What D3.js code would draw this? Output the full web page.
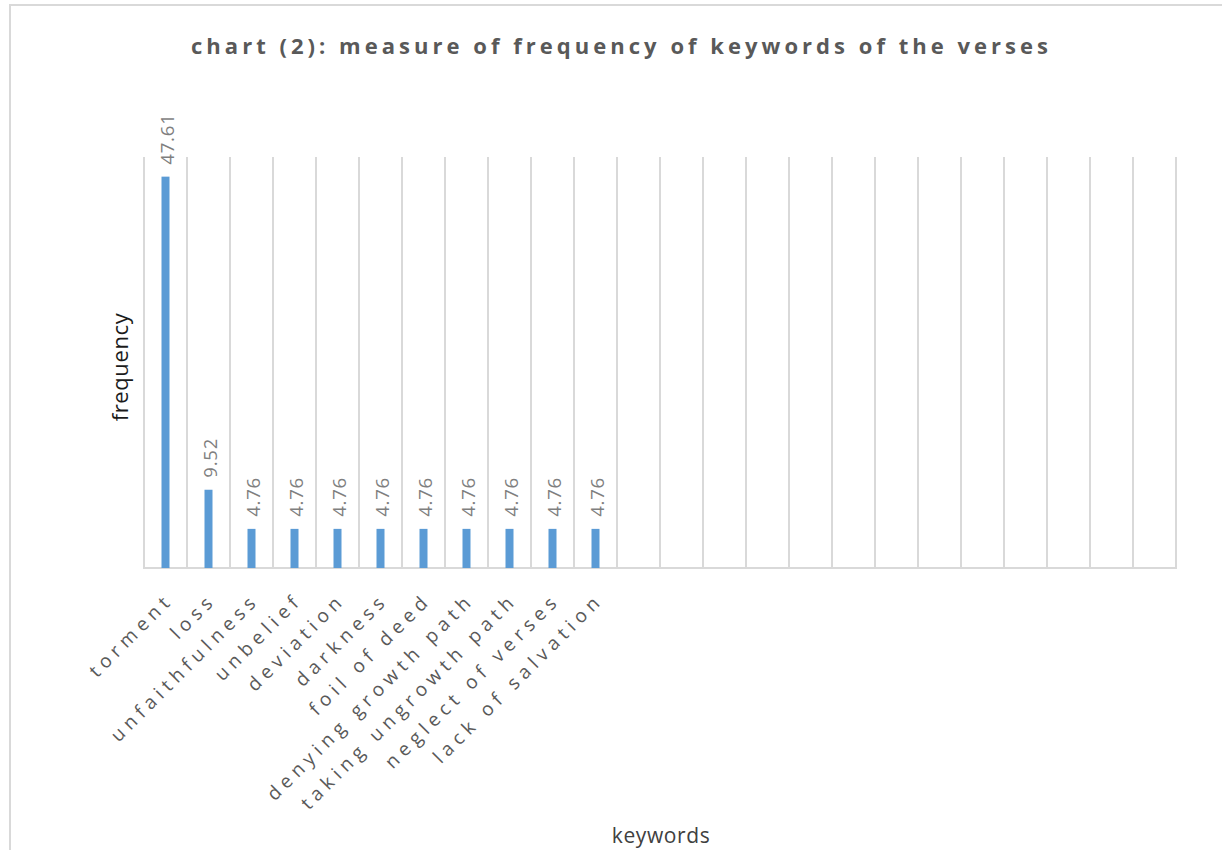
<!DOCTYPE html>
<html>
<head>
<meta charset="utf-8">
<script src="https://cdn.jsdelivr.net/npm/d3@7"></script>
<style>
  html, body { margin: 0; padding: 0; background: #fff; }
  svg { display: block; }
</style>
</head>
<body>
<script>
const chartTitle = "chart (2): measure of frequency of keywords of the verses";
const xTitle = "keywords";
const yTitle = "frequency";
const categories = [
  "torment", "loss", "unfaithfulness", "unbelief", "deviation", "darkness",
  "foil of deed", "denying growth path", "taking ungrowth path",
  "neglect of verses", "lack of salvation",
  "", "", "", "", "", "", "", "", "", "", "", "", ""
];
const values = [47.61, 9.52, 4.76, 4.76, 4.76, 4.76, 4.76, 4.76, 4.76, 4.76, 4.76];
const yDomain = [0, 50];

const W = 1222, H = 850;
const svg = d3.select("body").append("svg").attr("width", W).attr("height", H);

// outer chart border
svg.append("rect").attr("x", 10).attr("y", 5).attr("width", 1400).attr("height", 1000)
  .attr("fill", "#fff").attr("stroke", "#d9d9d9").attr("stroke-width", 2);

const plot = { left: 144, right: 1176, top: 157, bottom: 568 };
const x = d3.scaleBand().domain(d3.range(categories.length)).range([plot.left, plot.right]).padding(0);
const y = d3.scaleLinear().domain(yDomain).range([plot.bottom, plot.top]);
const bw = x.bandwidth();

// vertical gridlines at category boundaries
const bounds = d3.range(categories.length + 1).map(i => i < categories.length ? x(i) : x.range()[1]);
svg.append("g").selectAll("line").data(bounds).join("line")
  .attr("x1", d => d).attr("x2", d => d)
  .attr("y1", y(yDomain[1])).attr("y2", y(0))
  .attr("stroke", "#d9d9d9").attr("stroke-width", 2);

// baseline
svg.append("line").attr("x1", plot.left - 1).attr("x2", plot.right + 1)
  .attr("y1", y(0)).attr("y2", y(0))
  .attr("stroke", "#d9d9d9").attr("stroke-width", 2);

// bars
const barW = 8;
svg.append("g").selectAll("rect").data(values).join("rect")
  .attr("x", (d, i) => x(i) + bw / 2 - barW / 2)
  .attr("y", d => y(d))
  .attr("width", barW)
  .attr("height", d => y(0) - y(d))
  .attr("fill", "#5b9bd5");

// data labels
const fmt = d3.format(".2f");
svg.append("g").selectAll("text").data(values).join("text")
  .attr("transform", (d, i) => `translate(${x(i) + bw / 2 + 8},${y(d) - 12}) rotate(-90)`)
  .attr("text-anchor", "start")
  .attr("font-family", "Open Sans, sans-serif")
  .attr("font-size", 18.5)
  .attr("letter-spacing", "0.8px")
  .attr("fill", "#7f7f7f")
  .text(d => fmt(d));

// category labels
svg.append("g").selectAll("text").data(categories).join("text")
  .attr("transform", (d, i) => `translate(${x(i) + bw / 2 + 9},${y(0) + 33}) rotate(-45)`)
  .attr("text-anchor", "end")
  .attr("font-family", "Open Sans, sans-serif")
  .attr("font-size", 19)
  .attr("letter-spacing", "5.3px")
  .attr("fill", "#595959")
  .text(d => d);

// title
svg.append("text")
  .attr("x", 191).attr("y", 54)
  .attr("textLength", 857).attr("lengthAdjust", "spacing")
  .attr("font-family", "Open Sans, sans-serif")
  .attr("font-weight", "bold")
  .attr("font-size", 22)
  .attr("fill", "#595959")
  .text(chartTitle);

// axis titles
svg.append("text")
  .attr("transform", `translate(128,367) rotate(-90)`)
  .attr("text-anchor", "middle")
  .attr("font-family", "Open Sans, sans-serif")
  .attr("font-size", 22)
  .attr("letter-spacing", "0.6px")
  .attr("fill", "#1a1a1a")
  .text(yTitle);

svg.append("text")
  .attr("x", 661).attr("y", 843)
  .attr("text-anchor", "middle")
  .attr("font-family", "Open Sans, sans-serif")
  .attr("font-size", 21)
  .attr("letter-spacing", "0.6px")
  .attr("fill", "#404040")
  .text(xTitle);
</script>
</body>
</html>
